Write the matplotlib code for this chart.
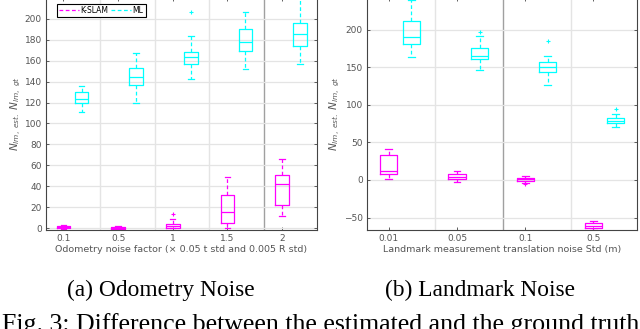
import numpy as np
import matplotlib.pyplot as plt

# ---- data (whisker low, q1, median, q3, whisker high) ----
odo_labels = ["0.1", "0.5", "1", "1.5", "2"]
odo_kslam = [(-1, 0, 1, 2, 3), (-1, -0.5, 0.3, 1, 1.5), (0, 0.3, 2.2, 3.5, 8.3),
             (0.3, 4.5, 15.6, 31.6, 49), (11.8, 22, 42, 50.7, 65.7)]
odo_kslam_out = [[], [], [13], [], []]
odo_ml = [(110.7, 119.6, 123.4, 130, 136), (120, 136.8, 144, 152.8, 167.8),
          (143, 156.6, 163.3, 168, 184), (152, 169.4, 177.7, 190, 207),
          (157, 174, 186, 196.5, 226)]
odo_ml_out = [[], [], [207], [], []]

lm_labels = ["0.01", "0.05", "0.1", "0.5"]
lm_kslam = [(1.3, 7.5, 12.4, 33.2, 40.8), (-3, 0.9, 4.4, 8, 12.4),
            (-3.5, -0.9, 1.3, 3, 5.3), (-66.5, -64.3, -60.7, -56.7, -54)]
lm_kslam_out = [[], [], [-5.8], []]
lm_ml = [(163, 180.8, 190.6, 211.8, 240), (146, 160.5, 165.3, 175, 192),
         (126.3, 143.2, 149.8, 157.3, 165.3), (70, 75.4, 78.5, 82, 87.3)]
lm_ml_out = [[], [197], [185], [95]]

MAG = "#ff00ff"
CYA = "#00ffff"


def stats(vals, outs):
    res = []
    for (lo, q1, med, q3, hi), fl in zip(vals, outs):
        res.append(dict(whislo=lo, q1=q1, med=med, q3=q3, whishi=hi, fliers=fl))
    return res


def draw(ax, kslam, kout, ml, mout, labels, ylim, yticks, dark_sep, xlabel):
    n = len(labels)
    pos = np.arange(1, n + 1)
    for sep in pos[:-1] + 0.67:
        c = "#a0a0a0" if sep == dark_sep else "#e4e4e4"
        ax.axvline(sep, color=c, lw=1.0, zorder=0)
    for data, outs, col, p in [(kslam, kout, MAG, pos), (ml, mout, CYA, pos + 0.33)]:
        ax.bxp(stats(data, outs), positions=p, widths=0.25, showfliers=True,
               boxprops=dict(color=col, lw=0.9),
               medianprops=dict(color=col, lw=0.9),
               whiskerprops=dict(color=col, lw=0.9, ls=(0, (3, 2))),
               capprops=dict(color=col, lw=0.9),
               flierprops=dict(marker="+", markeredgecolor=col, markersize=3.5, mew=0.8),
               capwidths=0.1, manage_ticks=False)
    ax.set_xlim(0.68, n + 0.64)
    ax.set_ylim(*ylim)
    ax.set_xticks(pos)
    ax.set_xticklabels(labels)
    ax.set_yticks(yticks)
    ax.yaxis.grid(True, color="#e4e4e4", lw=0.9)
    ax.set_axisbelow(True)
    ax.tick_params(direction="in", top=True, right=True, labelsize=6.5,
                   labelcolor="#555555", color="#444444", length=2.5, width=0.6, pad=3)
    for s in ax.spines.values():
        s.set_color("#444444")
        s.set_linewidth(0.8)
    ax.set_xlabel(xlabel, fontsize=6.8, color="#555555", labelpad=1.5)
    ax.set_ylabel(r"$N_{lm,\ est.}\ N_{lm,\ gt}$", fontsize=7.6, color="#555555", labelpad=1)


fig = plt.figure(figsize=(6.4, 3.29), dpi=100)
ax1 = fig.add_axes([46 / 640, 99 / 329, 271 / 640, 232 / 329])
ax2 = fig.add_axes([367 / 640, 99 / 329, 270 / 640, 232 / 329])

draw(ax1, odo_kslam, odo_kslam_out, odo_ml, odo_ml_out, odo_labels,
     (-1.9, 220), np.arange(0, 201, 20), 4.67,
     "Odometry noise factor (\u00d7 0.05 t std and 0.005 R std)")
draw(ax2, lm_kslam, lm_kslam_out, lm_ml, lm_ml_out, lm_labels,
     (-66.5, 242), np.arange(-50, 201, 50), 2.67,
     "Landmark measurement translation noise Std (m)")

h1, = ax1.plot([], [], color=MAG, ls=(0, (3, 2)), lw=0.9, label="K-SLAM")
h2, = ax1.plot([], [], color=CYA, ls=(0, (3, 2)), lw=0.9, label="ML")
leg = ax1.legend(handles=[h1, h2], ncol=2, fontsize=5.5, loc="upper left",
                 bbox_to_anchor=(57 / 640, 1 - 4 / 329), bbox_transform=fig.transFigure,
                 handlelength=2.6, handletextpad=0.2, columnspacing=0.4,
                 borderpad=0.25, borderaxespad=0, fancybox=False, framealpha=1)
leg.get_frame().set_edgecolor("black")
leg.get_frame().set_linewidth(0.8)

serif = ["Liberation Serif", "DejaVu Serif"]
fig.text(161 / 640, 1 - 290 / 329, "(a) Odometry Noise", ha="center", va="center",
         fontsize=16.8, family=serif)
fig.text(480 / 640, 1 - 290 / 329, "(b) Landmark Noise", ha="center", va="center",
         fontsize=16.8, family=serif)
fig.text(2 / 640, 1 - 331 / 329, "Fig. 3: Difference between the estimated and the ground truth",
         ha="left", va="baseline", fontsize=18.6, family=serif)

fig.savefig("out.png", dpi=100)
